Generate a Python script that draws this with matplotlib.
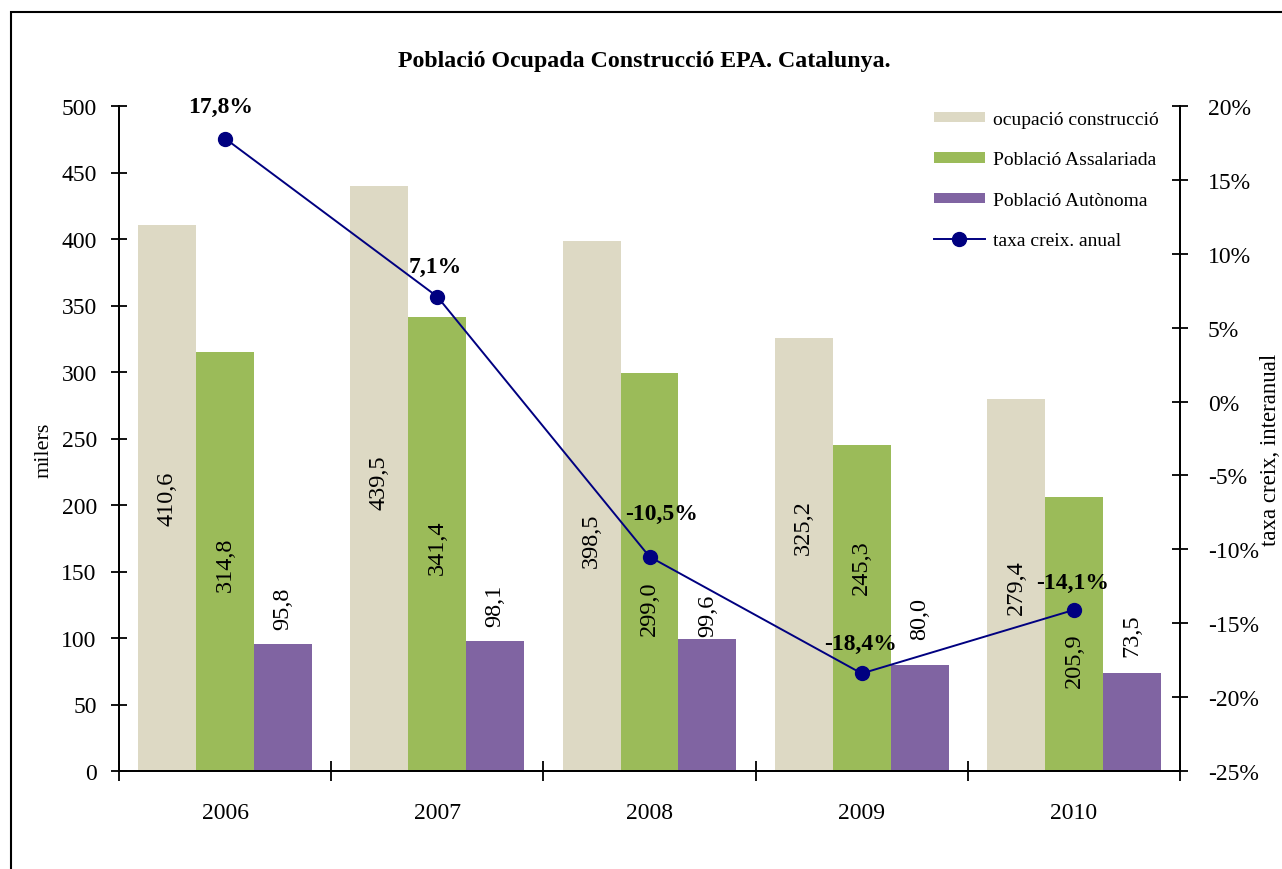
import matplotlib
matplotlib.use("Agg")
import matplotlib.pyplot as plt
import numpy as np
from matplotlib.patches import Rectangle
from matplotlib.lines import Line2D
from matplotlib.patches import Patch
from matplotlib.ticker import FixedLocator, FuncFormatter

plt.rcParams['font.family'] = ['Liberation Serif', 'DejaVu Serif']
plt.rcParams['axes.unicode_minus'] = False

# ---- data ----
years = ["2006", "2007", "2008", "2009", "2010"]
ocupacio = [410.6, 439.5, 398.5, 325.2, 279.4]
assalariada = [314.8, 341.4, 299.0, 245.3, 205.9]
autonoma = [95.8, 98.1, 99.6, 80.0, 73.5]
taxa = [17.8, 7.1, -10.5, -18.4, -14.1]

series_names = ["ocupació construcció", "Població Assalariada", "Població Autònoma", "taxa creix. anual"]
title = "Població Ocupada Construcció EPA. Catalunya."

# ---- label layout (data-unit y positions of value labels, pixel offsets of % labels) ----
lbl_y_ocup = [205.3, 217.3, 173.7, 183.5, 138.3]
lbl_y_assal = [155.6, 168.4, 122.6, 153.4, 83.5]
lbl_y_auto_bottom = [106.8, 109.0, 101.5, 99.2, 86.5]
pct_offsets = [(-4, 32), (-2, 30), (12, 43), (-1, 30), (-1, 27)]

c_ocup = "#DDD9C4"
c_assal = "#9BBB59"
c_auto = "#8064A2"
c_line = "#000080"

W, H = 1282, 870
fig = plt.figure(figsize=(W / 100, H / 100), dpi=100)

# outer frame
fig.patches.append(Rectangle((10.5 / W, -0.1), 1.2, 1 - 12.5 / H + 0.1,
                             transform=fig.transFigure, fill=False,
                             edgecolor="black", linewidth=1.5))

ax = fig.add_axes([119 / W, 1 - 772 / H, (1180 - 119) / W, (772 - 107) / H])
ax2 = ax.twinx()

x = np.arange(len(years))
bw = 0.273
ax.bar(x - bw, ocupacio, bw, color=c_ocup, zorder=2)
ax.bar(x, assalariada, bw, color=c_assal, zorder=2)
ax.bar(x + bw, autonoma, bw, color=c_auto, zorder=2)

ax.set_xlim(-0.5, len(years) - 0.5)
ax.set_ylim(0, 500)
ax.set_yticks(np.arange(0, 501, 50))

lblfs = 17.5
for i in range(len(years)):
    ax.text(x[i] - bw, lbl_y_ocup[i], f"{ocupacio[i]:.1f}".replace(".", ","),
            rotation=90, ha="center", va="center", fontsize=lblfs, zorder=5)
    ax.text(x[i], lbl_y_assal[i], f"{assalariada[i]:.1f}".replace(".", ","),
            rotation=90, ha="center", va="center", fontsize=lblfs, zorder=5)
    ax.text(x[i] + bw, lbl_y_auto_bottom[i], f"{autonoma[i]:.1f}".replace(".", ","),
            rotation=90, ha="center", va="bottom", fontsize=lblfs, zorder=5)

# x ticks: major at boundaries, labels at centers (minor)
ax.xaxis.set_major_locator(FixedLocator(np.arange(-0.5, len(years), 1.0)))
ax.xaxis.set_major_formatter(FuncFormatter(lambda v, p: ""))
ax.xaxis.set_minor_locator(FixedLocator(x))
ax.set_xticklabels(years, minor=True)
ax.tick_params(axis="x", which="major", direction="inout", length=14, width=1.3)
ax.tick_params(axis="x", which="minor", length=0, pad=22, labelsize=17)
ax.tick_params(axis="y", direction="inout", length=12, width=1.3, pad=10, labelsize=17)

for s in ["top"]:
    ax.spines[s].set_visible(False)
    ax2.spines[s].set_visible(False)
for a in (ax, ax2):
    for s in ["left", "right", "bottom"]:
        a.spines[s].set_linewidth(1.3)

# line on secondary axis
ax2.plot(x, taxa, color=c_line, linewidth=1.4, marker="o", markersize=10, zorder=6)
ax2.set_ylim(-25, 20)
ax2.set_yticks(np.arange(-25, 21, 5))
ax2.yaxis.set_major_formatter(FuncFormatter(lambda v, p: f"{int(round(v))}%"))
ax2.tick_params(axis="y", direction="inout", length=12, width=1.3, pad=14, labelsize=17)

for i in range(len(years)):
    dx, dy = pct_offsets[i]
    ax2.annotate(f"{taxa[i]:.1f}%".replace(".", ","), (x[i], taxa[i]),
                 xytext=(dx, dy), textcoords="offset pixels",
                 ha="center", va="center", fontsize=17, fontweight="bold", zorder=7)

# titles / axis labels
fig.text(644 / W, 1 - 61 / H, title, ha="center", va="center", fontsize=17.2, fontweight="bold")
fig.text(44 / W, 1 - 450 / H, "milers", rotation=90, ha="center", va="center", fontsize=16)
fig.text(1271 / W, 1 - 450 / H, "taxa creix, interanual", rotation=90, ha="center", va="center", fontsize=16.5)

# legend
handles = [Patch(facecolor=c_ocup, edgecolor="none"),
           Patch(facecolor=c_assal, edgecolor="none"),
           Patch(facecolor=c_auto, edgecolor="none"),
           Line2D([], [], color=c_line, linewidth=1.4, marker="o", markersize=10)]
leg = ax2.legend(handles, series_names, loc="upper left",
                 bbox_to_anchor=(934 / W, 1 - 112 / H), bbox_transform=fig.transFigure,
                 frameon=False, fontsize=14, handlelength=2.6, handleheight=0.45,
                 handletextpad=0.45, labelspacing=1.2, borderaxespad=0, borderpad=0)

fig.savefig("out.png", dpi=100)
